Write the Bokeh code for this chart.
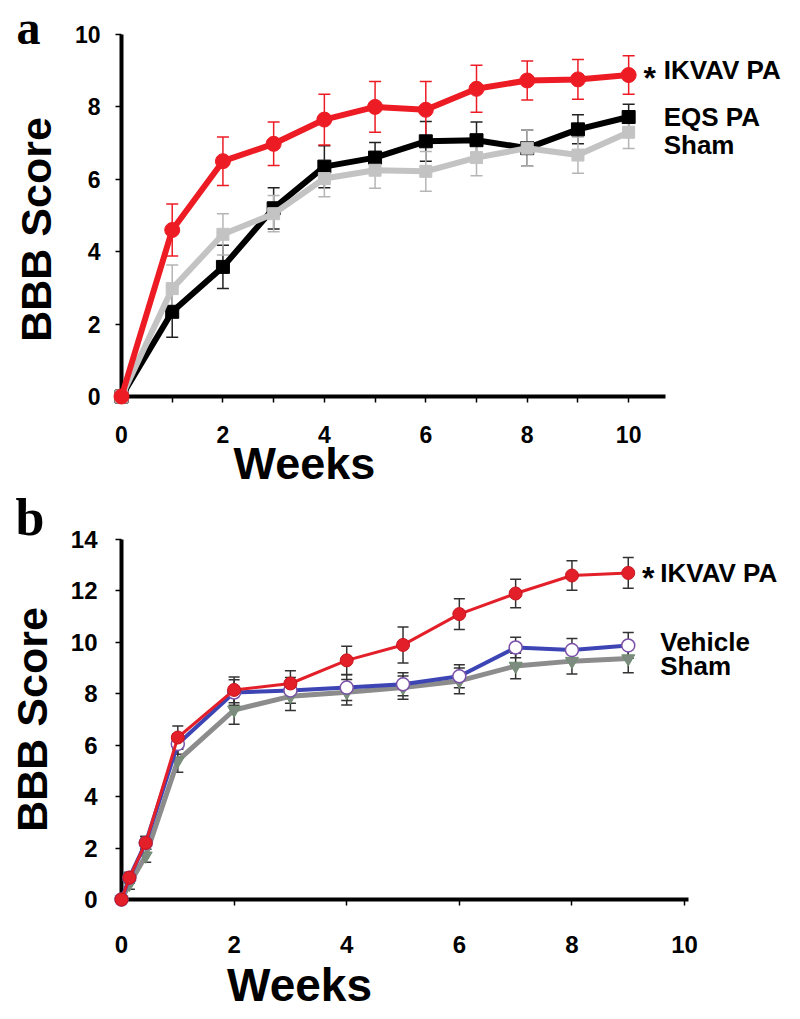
import math
from bokeh.plotting import figure
from bokeh.models import ColumnDataSource, Whisker, TeeHead, FixedTicker, Range1d
from bokeh.core.properties import value
from bokeh.layouts import column
from bokeh.embed import file_html
from bokeh.resources import INLINE

# ---------------- Panel a data ----------------
weeks_a = [0, 1, 2, 3, 4, 5, 6, 7, 8, 9, 10]
ikvav_a = [0, 4.6, 6.5, 6.98, 7.65, 8.0, 7.92, 8.5, 8.73, 8.76, 8.88]
ikvav_a_err = [0, 0.72, 0.67, 0.6, 0.7, 0.7, 0.78, 0.65, 0.54, 0.55, 0.53]
eqs_a = [0, 2.34, 3.58, 5.2, 6.35, 6.6, 7.05, 7.08, 6.86, 7.38, 7.72]
eqs_a_err = [0, 0.7, 0.6, 0.57, 0.58, 0.42, 0.55, 0.5, 0.5, 0.4, 0.35]
sham_a = [0, 2.98, 4.48, 5.05, 6.02, 6.25, 6.22, 6.6, 6.86, 6.67, 7.3]
sham_a_err = [0, 0.65, 0.57, 0.5, 0.5, 0.5, 0.55, 0.5, 0.5, 0.5, 0.45]
x_ticks_a = [0, 2, 4, 6, 8, 10]
x_minor_a = [1, 3, 5, 7, 9]
y_ticks_a = [0, 2, 4, 6, 8, 10]

# ---------------- Panel b data ----------------
weeks_b = [0, 0.14, 0.43, 1, 2, 3, 4, 5, 6, 7, 8, 9]
ikvav_b = [0, 0.85, 2.2, 6.3, 8.15, 8.4, 9.3, 9.9, 11.1, 11.9, 12.6, 12.7]
ikvav_b_err = [0, 0.2, 0.25, 0.45, 0.5, 0.5, 0.55, 0.7, 0.6, 0.55, 0.57, 0.6]
vehicle_b = [0, 0.85, 2.2, 6.05, 8.05, 8.13, 8.24, 8.37, 8.68, 9.8, 9.7, 9.88]
vehicle_b_err = [0, 0.2, 0.25, 0.4, 0.5, 0.5, 0.5, 0.45, 0.45, 0.4, 0.45, 0.5]
sham_b = [0, 0.6, 1.7, 5.4, 7.37, 7.9, 8.06, 8.24, 8.5, 9.08, 9.27, 9.37]
sham_b_err = [0, 0.2, 0.25, 0.45, 0.55, 0.55, 0.5, 0.45, 0.5, 0.5, 0.5, 0.55]
x_ticks_b = [0, 2, 4, 6, 8, 10]
y_ticks_b = [0, 2, 4, 6, 8, 10, 12, 14]

SANS = "Liberation Sans"
SERIF = "Liberation Serif"


def err_source(xs, ys, es):
    xx, up, lo = [], [], []
    for x, y, e in zip(xs, ys, es):
        if e > 0:
            xx.append(x)
            up.append(y + e)
            lo.append(y - e)
    return ColumnDataSource(dict(x=xx, upper=up, lower=lo))


def add_err(p, xs, ys, es, color, cap=12, width=1.5):
    src = err_source(xs, ys, es)
    w = Whisker(source=src, base="x", upper="upper", lower="lower",
                line_color=color, line_width=width,
                upper_head=TeeHead(size=cap, line_color=color, line_width=width),
                lower_head=TeeHead(size=cap, line_color=color, line_width=width))
    p.add_layout(w)


def style_axes(p, tick_font, standoff_x, standoff_y):
    p.outline_line_color = None
    p.xgrid.grid_line_color = None
    p.ygrid.grid_line_color = None
    for ax in (p.xaxis[0], p.yaxis[0]):
        ax.axis_line_width = 4
        ax.axis_line_color = "black"
        ax.major_tick_line_width = 1.5
        ax.minor_tick_line_width = 1.5
        ax.major_tick_in = 0
        ax.minor_tick_in = 0
        ax.major_tick_out = 6
        ax.minor_tick_out = 6
        ax.major_label_text_font = SANS
        ax.major_label_text_font_style = "bold"
        ax.major_label_text_font_size = tick_font
        ax.major_label_text_color = "black"
        ax.axis_label_text_font = SANS
        ax.axis_label_text_font_style = "bold"
        ax.axis_label_text_color = "black"
    p.xaxis[0].major_label_standoff = standoff_x
    p.yaxis[0].major_label_standoff = standoff_y


def txt(p, x, y, text, size, xo=0, yo=0, font=SANS, align="left", baseline="middle", angle=0):
    # text anchored at a data point, shifted by screen pixels (yo > 0 moves down)
    p.text(x=[x], y=[y], text=[text], x_offset=xo, y_offset=yo, angle=angle,
           text_font=value(font), text_font_style="bold", text_font_size=value(size),
           text_color="black", text_align=align, text_baseline=baseline, level="overlay")


# ================= Panel a =================
pa = figure(width=800, height=489, output_backend="svg", toolbar_location=None,
            x_range=Range1d(0, 11.18), y_range=Range1d(0, 10),
            min_border_left=121, min_border_right=112, min_border_top=34, min_border_bottom=93)
style_axes(pa, "23px", 23, 15)
pa.xaxis[0].ticker = FixedTicker(ticks=x_ticks_a, minor_ticks=x_minor_a)
pa.xaxis[0].bounds = (0, 10.73)
pa.yaxis[0].ticker = FixedTicker(ticks=y_ticks_a, minor_ticks=[])

RED_A = "#ED1C24"
GREY_A = "#C3C3C3"

add_err(pa, weeks_a, eqs_a, eqs_a_err, "#222222")
add_err(pa, weeks_a, sham_a, sham_a_err, "#B5B5B5")
add_err(pa, weeks_a, ikvav_a, ikvav_a_err, RED_A)

pa.line(weeks_a, eqs_a, line_color="black", line_width=6, level="overlay")
pa.scatter(weeks_a, eqs_a, marker="square", size=13, fill_color="black", line_color="black", level="overlay")
pa.line(weeks_a, sham_a, line_color=GREY_A, line_width=6, level="overlay")
pa.scatter(weeks_a, sham_a, marker="square", size=12, fill_color=GREY_A, line_color=GREY_A, level="overlay")
pa.line(weeks_a, ikvav_a, line_color=RED_A, line_width=6, level="overlay")
pa.scatter(weeks_a, ikvav_a, marker="circle", size=15, fill_color=RED_A, line_color=RED_A, level="overlay")

txt(pa, weeks_a[-1], ikvav_a[-1], "*", "32px", xo=21, yo=3, align="center", baseline="alphabetic")
txt(pa, weeks_a[-1], ikvav_a[-1], "IKVAV PA", "26px", xo=35, yo=-5)
txt(pa, weeks_a[-1], eqs_a[-1], "EQS PA", "26px", xo=35, yo=0)
txt(pa, weeks_a[-1], sham_a[-1], "Sham", "26px", xo=35, yo=13)
txt(pa, weeks_a[0], ikvav_a[0], "Weeks", "45px", xo=183, yo=67, align="center", baseline="middle")
txt(pa, weeks_a[0], ikvav_a[0], "BBB Score", "43px", xo=-86, yo=-167, align="center",
    baseline="middle", angle=math.pi / 2)
txt(pa, weeks_a[0], ikvav_a[0], "a", "48px", xo=-105, yo=-369, font=SERIF, baseline="alphabetic")

# ================= Panel b =================
pb = figure(width=800, height=525, output_backend="svg", toolbar_location=None,
            x_range=Range1d(0, 10.07), y_range=Range1d(0, 14),
            min_border_left=121, min_border_right=112, min_border_top=50, min_border_bottom=115)
style_axes(pb, "24px", 30, 18)
pb.xaxis[0].ticker = FixedTicker(ticks=x_ticks_b, minor_ticks=[])
pb.yaxis[0].ticker = FixedTicker(ticks=y_ticks_b, minor_ticks=[])
pb.yaxis[0].axis_label = "BBB Score"
pb.yaxis[0].axis_label_text_font_size = "43px"
pb.yaxis[0].axis_label_standoff = 12

RED_B = "#E3202A"
BLUE_B = "#3D45B5"
GREY_B = "#8C8C8C"
ERR_B = "#333333"

add_err(pb, weeks_b, sham_b, sham_b_err, ERR_B, cap=11)
add_err(pb, weeks_b, vehicle_b, vehicle_b_err, ERR_B, cap=11)
add_err(pb, weeks_b, ikvav_b, ikvav_b_err, ERR_B, cap=11)

pb.line(weeks_b, sham_b, line_color=GREY_B, line_width=5, level="overlay")
pb.scatter(weeks_b, sham_b, marker="inverted_triangle", size=13, fill_color="#7E8B80",
           line_color="#6F8F6F", level="overlay")
pb.line(weeks_b, vehicle_b, line_color=BLUE_B, line_width=4, level="overlay")
pb.scatter(weeks_b, vehicle_b, marker="circle", size=13, fill_color="white",
           line_color="#7A50A8", line_width=1.5, level="overlay")
pb.line(weeks_b, ikvav_b, line_color=RED_B, line_width=3, level="overlay")
pb.scatter(weeks_b, ikvav_b, marker="circle", size=13, fill_color=RED_B,
           line_color="#C8141E", level="overlay")

txt(pb, weeks_b[-1], ikvav_b[-1], "*", "32px", xo=20, yo=5, align="center", baseline="alphabetic")
txt(pb, weeks_b[-1], ikvav_b[-1], "IKVAV PA", "26px", xo=32, yo=0)
txt(pb, weeks_b[-1], vehicle_b[-1], "Vehicle", "26px", xo=32, yo=-3)
txt(pb, weeks_b[-1], sham_b[-1], "Sham", "26px", xo=32, yo=7)
txt(pb, weeks_b[0], ikvav_b[0], "Weeks", "46px", xo=178, yo=85, align="center", baseline="middle")
txt(pb, weeks_b[0], ikvav_b[0], "b", "52px", xo=-106, yo=-382, font=SERIF, baseline="alphabetic")

layout = column(pa, pb, spacing=0)
open("out.html", "w").write(file_html(layout, INLINE))
